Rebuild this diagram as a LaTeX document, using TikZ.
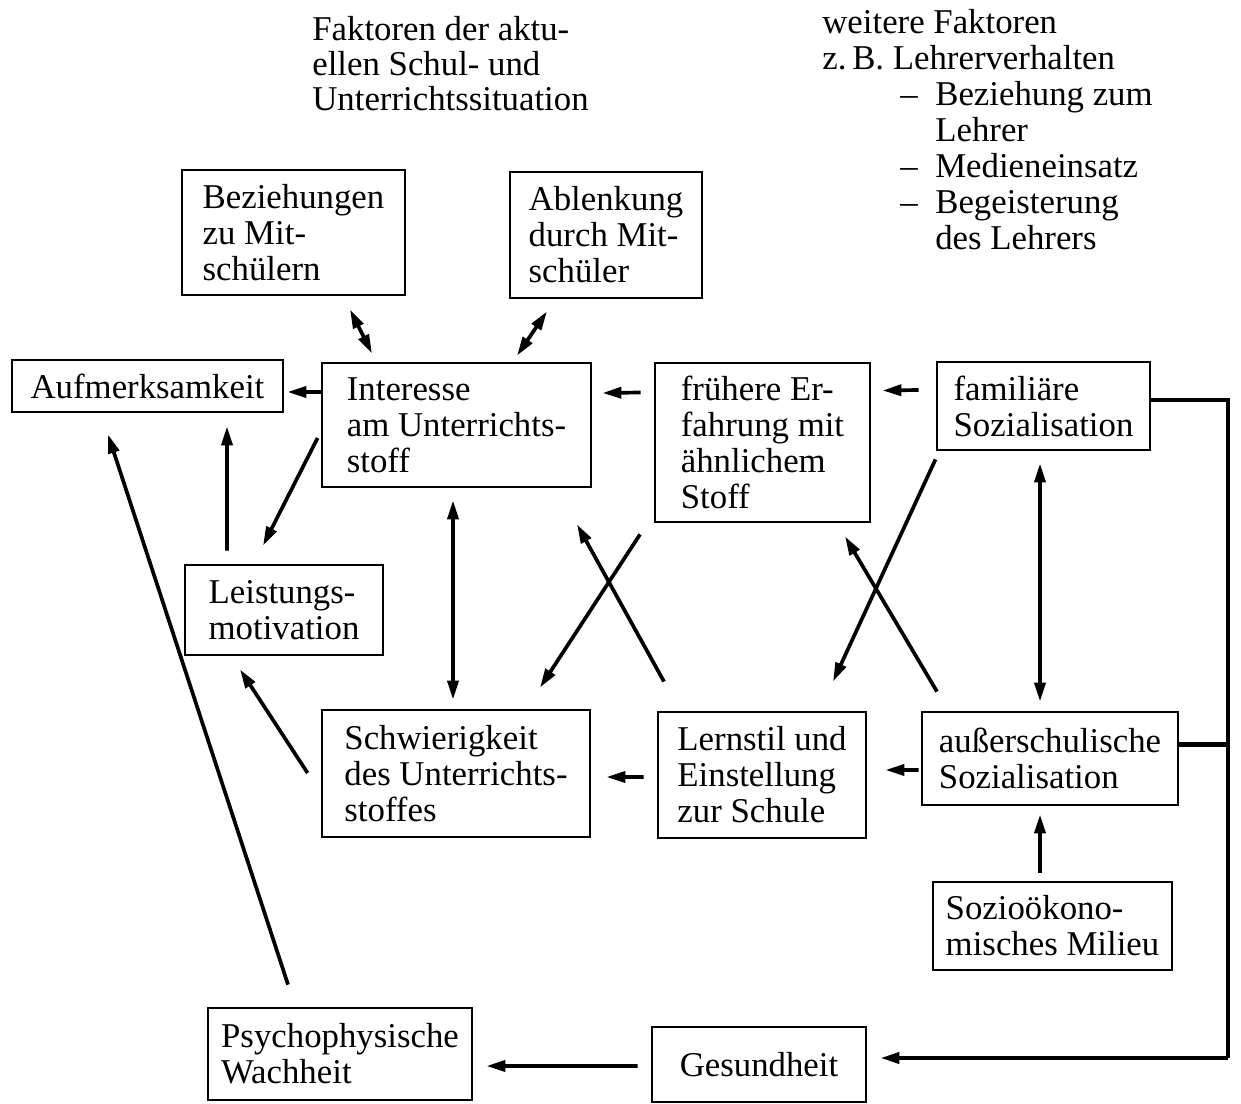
\documentclass[tikz,border=0pt]{standalone}
\usepackage{fontspec}
\setmainfont{Liberation Serif}
\usetikzlibrary{arrows.meta,calc}
\newcommand\dashitem{\makebox[2.26cm][r]{–\hspace{0.35cm}}}
\newcommand\inditem{\hspace*{2.26cm}}
\begin{document}
\begin{tikzpicture}[x=0.02cm,y=-0.02cm,
  every node/.style={font=\fontsize{19.8}{20.5}\selectfont},
  box/.style={draw, line width=1.6pt, align=left, inner sep=0pt},
  bx/.style 2 args={minimum width=#1*0.02cm, minimum height=#2*0.02cm},
  tip/.tip={Triangle[length=0.38cm,width=0.22cm]},
  arr/.style={line width=2.1pt, -tip},
  darr/.style={line width=2.1pt, tip-tip},
  fb/.style={line width=2.3pt}]
\useasboundingbox (0,0) rectangle (1241,1104);
% header texts
\node[anchor=north west, align=left, inner sep=0pt, font=\fontsize{19.8}{19.8}\selectfont] (h1) at (312,16)
  {Faktoren der aktu-\\ellen Schul- und\\Unterrichtssituation};
\node[anchor=north west, align=left, inner sep=0pt] (h2) at (822,9)
  {weitere Faktoren\\z.\,B. Lehrerverhalten\\\dashitem Beziehung zum\\\inditem Lehrer\\\dashitem Medieneinsatz\\\dashitem Begeisterung\\\inditem des Lehrers};
% boxes
\node[box, bx={223}{125}] (bez) at (293.5,232.5) {Beziehungen\\zu Mit-\\schülern};
\node[box, bx={192}{126}] (abl) at (606,235) {Ablenkung\\durch Mit-\\schüler};
\node[box, bx={271}{52}] (auf) at (147.5,386) {Aufmerksamkeit};
\node[box, bx={269}{124}] (int) at (456.5,425) {Interesse\\am Unterrichts-\\stoff};
\node[box, bx={215}{159}] (fru) at (762.5,442.5) {frühere Er-\\fahrung mit\\ähnlichem\\Stoff};
\node[box, bx={213}{88}] (fam) at (1043.5,406) {familiäre\\Sozialisation};
\node[box, bx={198}{90}] (lei) at (284,610) {Leistungs-\\motivation};
\node[box, bx={268}{127}] (sch) at (456,773.5) {Schwierigkeit\\des Unterrichts-\\stoffes};
\node[box, bx={208}{126}] (ler) at (762,775) {Lernstil und\\Einstellung\\zur Schule};
\node[box, bx={256}{93}] (aus) at (1050,758.5) {außerschulische\\Sozialisation};
\node[box, bx={239}{88}] (soz) at (1052.5,926) {Sozioökono-\\misches Milieu};
\node[box, bx={264}{92}] (psy) at (340,1054) {Psychophysische\\Wachheit};
\node[box, bx={214}{75}] (ges) at (759,1064.5) {Gesundheit};
% connectors
\draw[darr] ($(bez.south)+(56.5,13)$) -- ($(int.north)+(-84.5,-8)$);
\draw[darr] ($(abl.south)+(-59,12)$) -- ($(int.north)+(60.5,-6)$);
\draw[arr] ($(int.west)+(0,-33)$) -- ($(auf.east)+(3,6)$);
\draw[arr] ($(int.west)+(-3,13)$) -- ($(lei.north)+(-21,-18)$);
\draw[arr] ($(lei.north)+(-57,-13)$) -- ($(auf.south)+(79.5,13)$);
\draw[arr] ($(psy.north)+(-52,-22)$) -- ($(auf.south)+(-39.5,21)$);
\draw[darr] ($(int.south)+(-3.5,12)$) -- ($(sch.north)+(-3,-9)$);
\draw[arr] ($(fru.west)+(-13,-50)$) -- ($(int.east)+(10,-32)$);
\draw[arr] ($(fam.west)+(-17,-16)$) -- ($(fru.east)+(11,-52)$);
\draw[arr] ($(fru.south)+(-122.5,11)$) -- ($(sch.north)+(84,-21)$);
\draw[arr] ($(ler.north)+(-98,-29)$) -- ($(int.south)+(120.5,36)$);
\draw[arr] ($(fam.south)+(-108,8)$) -- ($(ler.north)+(71,-29)$);
\draw[arr] ($(aus.north)+(-113,-19)$) -- ($(fru.south)+(82.5,13)$);
\draw[darr] ($(fam.south)+(-3.5,12)$) -- ($(aus.north)+(-10,-9)$);
\draw[arr] ($(soz.north)+(-12.5,-8)$) -- ($(aus.south)+(-10,8)$);
\draw[arr] ($(aus.west)+(-2,11.5)$) -- ($(ler.east)+(18,-5)$);
\draw[arr] ($(ler.west)+(-13,2)$) -- ($(sch.east)+(15,3.5)$);
\draw[arr] ($(sch.west)+(-13,-0.5)$) -- ($(lei.south)+(-44,13)$);
\draw[arr] ($(ges.west)+(-13,1.5)$) -- ($(psy.east)+(13,12)$);
% feedback line
\coordinate (rt) at (1228,400);
\coordinate (rb) at (1228,1058);
\coordinate (ae) at ($(aus.east)+(0,-14)$);
\draw[fb] ($(fam.east)+(0,-6)$) -- (rt) -- (rb);
\draw[fb, -tip] (rb) -- ($(ges.east)+(13,-6.5)$);
\draw[fb] (ae) -- (ae -| rt);
\end{tikzpicture}
\end{document}
